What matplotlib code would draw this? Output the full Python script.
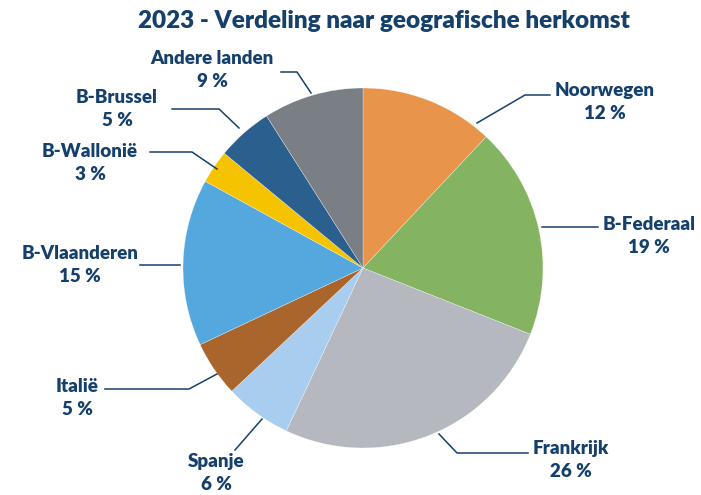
import matplotlib.pyplot as plt

landen = ['Noorwegen', 'B-Federaal', 'Frankrijk', 'Spanje', 'Italië',
          'B-Vlaanderen', 'B-Wallonië', 'B-Brussel', 'Andere landen']
aandeel = [12, 19, 26, 6, 5, 15, 3, 5, 9]
kleuren = ['#E8954B', '#84B461', '#B5B8BF', '#A9CDEF', '#A9652B',
           '#54A8DD', '#F6C300', '#2B5F8E', '#7A7E85']

H = 495
navy = '#15406C'

# label centre (x, y in pixels from top) and leader line points
layout = {
    'Noorwegen':     ((605, 102), [(477, 123), (525, 95), (550, 95)]),
    'B-Federaal':    ((649, 236), [(542, 227), (598, 227)]),
    'Frankrijk':     ((571, 460), [(439, 434), (457, 453), (528, 453)]),
    'Spanje':        ((216, 473), [(262, 419), (235, 450)]),
    'Italië':        ((77, 398),  [(217, 374), (189, 389), (105, 389)]),
    'B-Vlaanderen':  ((80, 265),  [(180, 265), (140, 265)]),
    'B-Wallonië':    ((90, 163),  [(217, 169), (192, 152), (150, 152)]),
    'B-Brussel':     ((117, 109), [(239, 128), (219, 109), (172, 109)]),
    'Andere landen': ((212, 70),  [(311, 93), (297, 72), (281, 72)]),
}

fig = plt.figure(figsize=(7.01, 4.95), dpi=100)
ax = fig.add_axes([0, 0, 1, 1])
ax.pie(aandeel, colors=kleuren, startangle=90, counterclock=False,
       center=(363, H - 268), radius=180,
       wedgeprops={'edgecolor': 'white', 'linewidth': 0.2})
ax.set_xlim(0, 701)
ax.set_ylim(0, H)
ax.set_aspect('equal')
ax.axis('off')

for naam, pct in zip(landen, aandeel):
    (tx, ty), pts = layout[naam]
    ax.text(tx, H - ty, f'{naam}\n{pct} %', ha='center', va='center',
            fontsize=13.5, fontweight='heavy', family='Lato', color=navy,
            linespacing=1.45)
    ax.plot([p[0] for p in pts], [H - p[1] for p in pts], color=navy, lw=1.1)

ax.text(384, H - 21, '2023 - Verdeling naar geografische herkomst',
        ha='center', va='center', fontsize=17.5, fontweight='heavy',
        family='Lato', color=navy)

plt.savefig('out.png', dpi=100)
